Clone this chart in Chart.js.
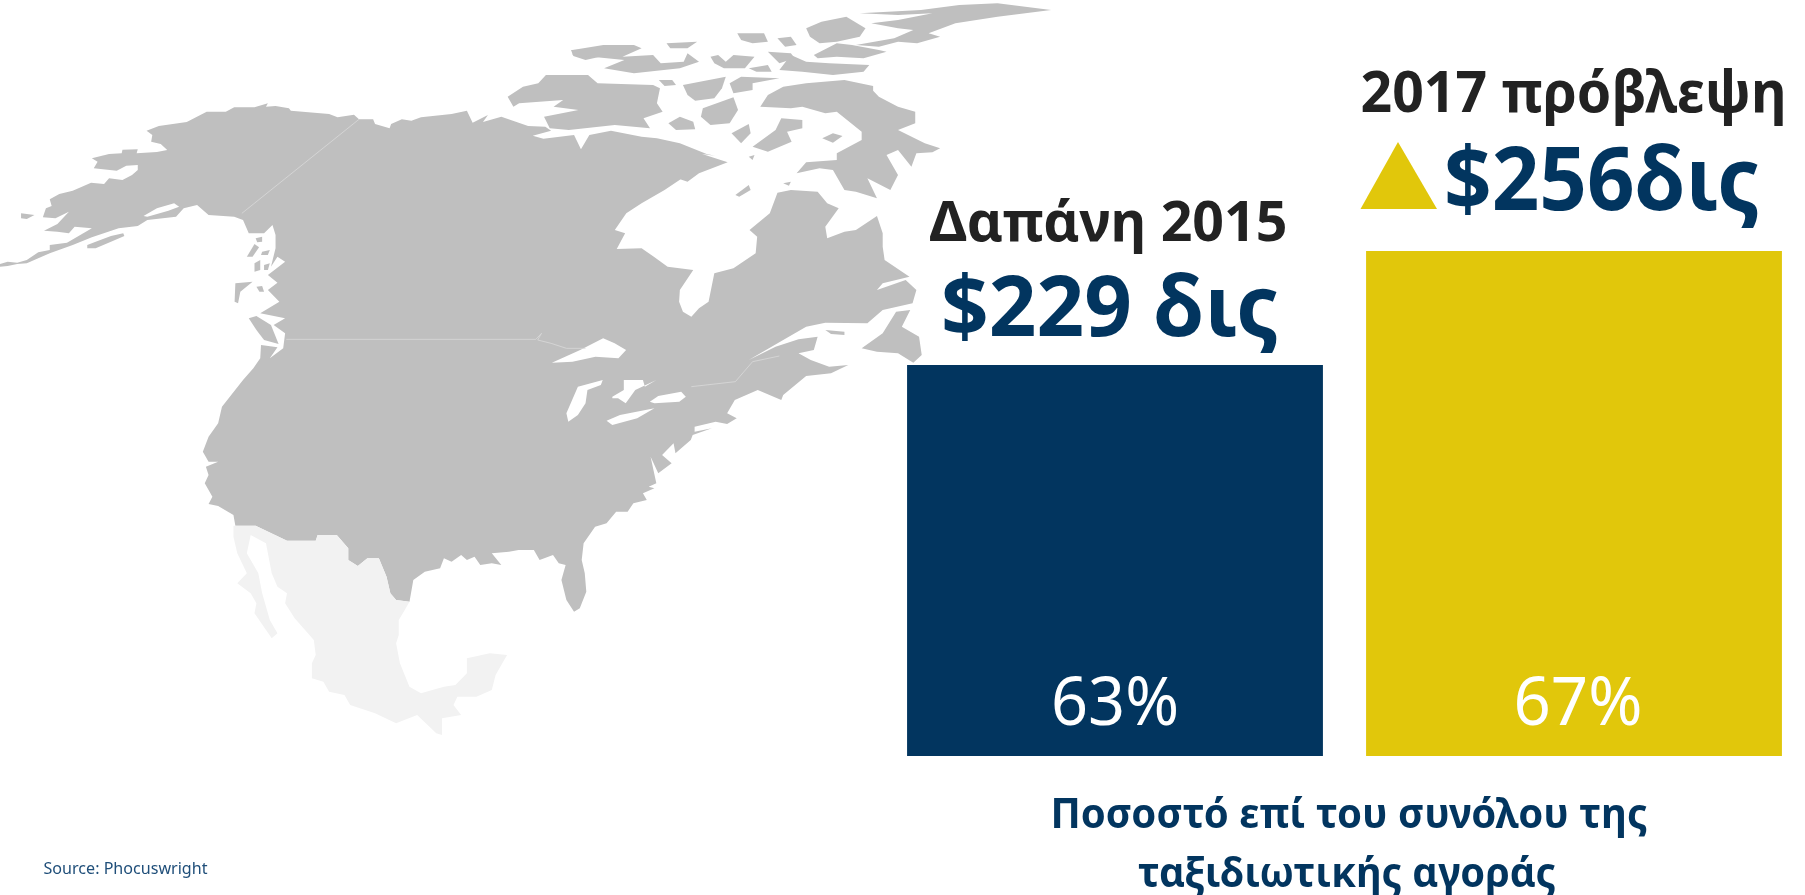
<!DOCTYPE html>
<html lang="el">
<head>
<meta charset="utf-8">
<title>Δαπάνη 2015 και 2017 πρόβλεψη</title>
<style>html,body{margin:0;padding:0;background:#fff}canvas{display:block}</style>
<script src="https://cdn.jsdelivr.net/npm/chart.js@4"></script>
</head>
<body>
<canvas id="c" width="1805" height="895"></canvas>
<script>
// ---- chart data ----
const categories = ['Δαπάνη 2015', '2017 πρόβλεψη'];
const spending = [229, 256];
const amountLabels = ['$229 δις', '$256δις'];
const shareOfMarket = [63, 67];
const shareCaption = ['Ποσοστό επί του συνόλου της', 'ταξιδιωτικής αγοράς'];
const sourceNote = 'Source: Phocuswright';

const NAVY = '#02355F', YELLOW = '#E1C70B', INK = '#222222';

// ---- decorative background map, traced in a shared space (x*2.613, y*3) ----
const OX2 = 1306.5, OX3 = 470, OY3 = 1140;
const shift = (pts, dx, dy) => pts.map(p => [p[0] + dx, p[1] + dy]);
const mainland = [].concat(
  [[0,800],[0,792],[20,785],[45,788],[70,780],[100,757],[130,750],[130,735],[175,728],[240,685],[195,680],[180,700],[150,695],[115,692],[150,672],[180,635],[145,655],[112,652],[120,625],[135,618],[130,598],[155,582],[190,572],[238,548],[272,552],[285,535],[320,540],[345,525],[360,510],[360,495],[330,497],[305,512],[245,505],[255,485],[240,475],[285,462],[318,460],[320,449],[360,448],[357,460],[410,456],[437,450],[420,432],[395,425],[398,405],[383,392],[415,378],[488,366],[540,335],[590,335],[612,322],[665,322],[700,310],[695,320],[720,318],[755,325],[760,332],[860,342],[882,352],[925,344],[938,358],[975,358],[980,372],[1018,385],[1022,372],[1050,358],[1075,362],[1100,352],[1180,342],[1220,332],[1235,368],[1275,345],[1262,366],[1310,350],[1380,378],[1425,380],[1440,392],[1392,407],[1420,416],[1500,405],[1518,448],[1540,405]],
  shift([[290,392],[370,410],[410,415],[470,430],[540,462],[562,467],[528,462],[595,487],[520,520],[490,545],[432,523],[472,538],[430,570],[370,610],[330,640],[300,690],[327,700],[305,747],[370,745],[402,770],[438,800],[505,810],[470,870],[468,905],[478,935],[500,950],[520,925],[545,905],[560,820],[610,805],[668,760],[672,710],[652,690],[705,640],[725,578],[760,570],[830,575],[855,610],[885,625],[850,680],[855,715],[900,695],[930,690],[985,648],[1000,700],[1000,740],[1005,780],[1070,830],[1000,850],[985,870],[1060,840],[1088,870],[1078,910],[1000,930],[960,970],[850,968],[800,980],[740,1020],[650,1080],[720,1040],[780,1018],[830,1010],[820,1050],[780,1060],[812,1080],[860,1100],[910,1095],[865,1120],[800,1128],[740,1185],[735,1200]], OX2, 0),
  shift([[1510,30],[1450,60],[1430,100],[1455,115],[1430,132],[1400,125],[1345,140],[1345,155],[1390,145],[1340,165],[1335,180],[1295,220],[1290,190],[1260,225],[1285,250],[1250,280],[1230,230],[1245,310],[1225,320],[1240,325],[1210,340],[1220,360],[1185,370],[1170,395],[1140,395],[1115,430],[1085,440],[1055,490],[1050,540],[1058,580],[1062,635],[1045,685],[1030,695],[1010,660],[997,600],[1008,555],[990,550],[975,525],[940,540],[925,510],[885,510],[860,515],[815,520],[840,555],[815,550],[785,555],[770,530],[750,540],[735,525],[710,545],[690,535],[680,565],[640,575],[610,600],[600,665],[565,660],[550,640],[540,590],[520,535],[490,535],[465,558],[440,540],[440,505],[410,465],[360,465],[355,482],[280,482],[198,437],[145,437],[140,405],[100,378],[75,372],[85,350],[65,310],[75,285],[68,260],[100,245],[75,245],[60,215],[75,170],[100,130],[110,80],[165,0]], OX3, OY3),
  [[662,1105],[680,1075],[682,1035],[725,1042],[705,1075],[740,1045],[745,1000],[715,975],[745,955],[680,940],[730,905],[700,870],[725,848],[700,825],[745,785],[725,770],[708,800],[720,745],[720,705],[712,675],[690,700],[650,700],[635,660],[612,650],[545,645],[515,615],[480,625],[460,650],[385,660],[360,678],[310,685],[240,712],[190,735],[130,760],[70,790],[45,792],[20,798]]
);
const lands = [
  mainland,
  [[55,640],[90,645],[70,657],[55,655]],
  [[228,735],[250,725],[290,708],[322,700],[325,708],[290,725],[250,745],[228,745]],
  [[645,770],[665,732],[677,742],[660,770]],
  [[668,715],[685,710],[685,725],[672,727]],
  [[685,755],[705,750],[700,765],[682,765]],
  [[665,790],[680,780],[680,810],[665,815]],
  [[690,795],[705,790],[700,810],[690,810]],
  [[615,850],[660,845],[628,875],[622,910],[613,905]],
  [[670,860],[685,858],[690,875],[678,875]],
  [[650,955],[670,948],[708,975],[728,1032],[690,1020],[670,990]],
  [[1492,150],[1568,148],[1568,170],[1530,180],[1498,168]]
].concat([
  [[20,290],[60,260],[100,250],[120,225],[230,225],[255,250],[400,255],[418,265],[410,310],[425,335],[375,355],[392,385],[300,375],[180,390],[130,385],[115,350],[205,330],[140,320],[165,300],[50,310],[35,320]],
  [[190,150],[270,135],[350,135],[370,145],[320,170],[400,165],[420,190],[480,185],[490,160],[520,185],[470,205],[350,220],[272,205],[325,180],[240,170],[190,165]],
  [[435,130],[515,125],[490,145],[445,145]],
  [[620,100],[690,100],[700,125],[660,130],[630,120]],
  [[725,115],[760,110],[775,135],[745,140]],
  [[550,170],[570,165],[590,185],[610,165],[665,170],[640,205],[585,205],[560,190]],
  [[800,85],[840,65],[905,50],[955,85],[940,110],[880,125],[835,130],[810,110]],
  [[940,40],[1100,30],[1200,15],[1300,10],[1440,30],[1300,50],[1190,70],[1120,100],[1150,110],[1090,130],[1040,125],[990,140],[930,135],[1030,115],[1080,90],[1040,85],[970,70],[1040,60],[1130,40],[1040,45]],
  [[820,165],[880,130],[920,135],[990,150],[1010,155],[950,175],[880,170],[830,175]],
  [[730,210],[760,165],[800,185],[860,190],[965,195],[950,215],[870,225],[790,215]],
  [[700,155],[760,160],[770,175],[730,190]],
  [[650,205],[700,195],[710,215],[670,215]],
  [[415,240],[450,240],[460,255],[430,258]],
  [[478,255],[590,230],[580,265],[560,295],[510,302],[490,285]],
  [[600,250],[630,230],[730,235],[660,250],[660,270],[610,280]],
  [[530,325],[610,292],[622,330],[600,370],[550,375],[525,350]],
  [[440,370],[470,350],[505,365],[510,388],[460,390]],
  [[680,320],[700,285],[740,260],[800,250],[900,240],[975,258],[975,272],[990,290],[1040,320],[1085,335],[1085,370],[1040,390],[1110,430],[1150,445],[1130,457],[1088,460],[1075,500],[1040,450],[1010,465],[1040,525],[1020,570],[960,535],[985,595],[930,575],[900,570],[870,510],[835,505],[775,520],[800,487],[880,480],[880,460],[945,420],[945,395],[880,335],[850,340],[790,320],[760,325]],
  [[660,440],[720,390],[735,355],[790,360],[790,385],[750,395],[762,425],[700,455]],
  [[605,400],[650,372],[655,400],[630,430]],
  [[842,415],[870,400],[895,408],[870,428]],
  [[615,585],[650,555],[655,570],[625,590]],
  [[945,1045],[1000,1000],[1035,935],[1072,930],[1050,980],[1095,1010],[1102,1065],[1080,1088],[1040,1060],[985,1055]],
  [[850,990],[900,995],[900,1005],[865,1002]],
  [[650,470],[665,465],[660,480]],
  [[740,550],[760,545],[755,557]]
].map(p => shift(p, OX2, 0)));
const waters = [
  [[375,648],[410,625],[455,610],[468,620],[440,632],[385,650]],
  [[1442,1088],[1516,1050],[1576,1015],[1606,1030],[1636,1050],[1616,1075],[1556,1070],[1496,1085]],
  [[1040,20],[1105,0],[1100,15],[1065,30],[1060,70],[1040,105],[1015,125],[1010,100],[1025,60]],
  [[1130,50],[1160,30],[1160,0],[1210,0],[1215,20],[1245,0],[1190,30],[1165,70],[1145,55],[1130,55]],
  [[1115,122],[1150,105],[1240,85],[1195,115],[1130,135]],
  [[1228,65],[1250,48],[1310,35],[1322,50],[1305,65],[1240,70]]
].map((p, i) => i < 2 ? p : shift(p, OX3, OY3));
const mexico = shift([[140,437],[198,437],[280,482],[355,482],[360,465],[410,465],[440,505],[440,540],[465,558],[490,535],[520,535],[540,590],[550,640],[565,660],[600,665],[585,695],[572,720],[572,765],[565,790],[575,850],[600,920],[630,940],[690,920],[720,915],[750,880],[750,835],[810,820],[855,825],[825,885],[815,930],[775,950],[725,950],[715,975],[735,1005],[685,1015],[685,1065],[670,1060],[620,1005],[565,1030],[510,1000],[445,975],[430,945],[390,935],[375,905],[345,895],[345,850],[355,825],[350,780],[300,715],[275,670],[280,640],[255,620],[240,580],[225,490],[185,465],[175,520],[205,580],[215,640],[235,720],[255,760],[240,775],[195,700],[200,670],[185,640],[150,610],[175,580],[150,520],[140,470]], OX3, OY3);
const borders = [
  [[938,358],[632,640]],
  [[748,1018],[1400,1018],[1415,1000],[1405,1020],[1440,1030],[1480,1045],[1530,1045]],
  shift([[500,1160],[615,1145],[660,1085],[730,1068]], OX2, 0)
];

function tracePoly(ctx, pts, close) {
  ctx.beginPath();
  pts.forEach((p, i) => {
    const x = p[0] / 2.613, y = p[1] / 3;
    if (i) ctx.lineTo(x, y); else ctx.moveTo(x, y);
  });
  if (close) ctx.closePath();
}

const mapPlugin = {
  id: 'backgroundMap',
  beforeDatasetsDraw(chart) {
    const ctx = chart.ctx;
    ctx.save();
    ctx.fillStyle = '#BFBFBF';
    lands.forEach(p => { tracePoly(ctx, p, true); ctx.fill(); });
    ctx.fillStyle = '#FFFFFF';
    waters.forEach(p => { tracePoly(ctx, p, true); ctx.fill(); });
    ctx.fillStyle = '#F2F2F2';
    tracePoly(ctx, mexico, true); ctx.fill();
    ctx.strokeStyle = '#D9D9D9';
    ctx.lineWidth = 0.8;
    borders.forEach(p => { tracePoly(ctx, p, false); ctx.stroke(); });
    ctx.restore();
  }
};

// Draws a string centred at cx on a baseline, fitted to a given width.
function fitText(ctx, text, cx, baseline, width, font, color) {
  ctx.save();
  ctx.font = font;
  ctx.fillStyle = color;
  ctx.textAlign = 'center';
  ctx.textBaseline = 'alphabetic';
  const w = ctx.measureText(text).width;
  ctx.translate(cx, baseline);
  ctx.scale(width / w, 1);
  ctx.fillText(text, 0, 0);
  ctx.restore();
}

const labelPlugin = {
  id: 'barLabels',
  afterDatasetsDraw(chart) {
    const ctx = chart.ctx;
    const bars = chart.getDatasetMeta(0).data;
    const FF = '"Noto Sans", sans-serif';
    const b0 = bars[0], b1 = bars[1];

    fitText(ctx, categories[0], b0.x - 6.5, b0.y - 124, 358, `bold 56px ${FF}`, INK);
    fitText(ctx, categories[1], b1.x - 0.5, b1.y - 139, 426, `bold 57px ${FF}`, INK);
    fitText(ctx, amountLabels[0], b0.x - 5, b0.y - 29, 338, `bold 85px ${FF}`, NAVY);
    fitText(ctx, amountLabels[1], b1.x + 28, b1.y - 41, 316, `bold 87px ${FF}`, NAVY);

    // up-triangle beside the forecast amount
    ctx.save();
    ctx.fillStyle = YELLOW;
    ctx.beginPath();
    ctx.moveTo(b1.x - 176, b1.y - 109);
    ctx.lineTo(b1.x - 137, b1.y - 42);
    ctx.lineTo(b1.x - 213.5, b1.y - 42);
    ctx.closePath();
    ctx.fill();
    ctx.restore();

    const base = chart.scales.y.bottom;
    fitText(ctx, shareOfMarket[0] + '%', b0.x, base - 31, 128, `67px ${FF}`, '#FFFFFF');
    fitText(ctx, shareOfMarket[1] + '%', b1.x + 4, base - 31, 129, `67px ${FF}`, '#FFFFFF');

    const mid = (b0.x + b1.x) / 2;
    fitText(ctx, shareCaption[0], mid + 4.5, base + 72, 597, `bold 41px ${FF}`, NAVY);
    fitText(ctx, shareCaption[1], mid + 2.5, base + 131, 418, `bold 41px ${FF}`, NAVY);

    fitText(ctx, sourceNote, 125.5, 874, 164, `16px ${FF}`, '#1F4E79');
  }
};

new Chart(document.getElementById('c'), {
  type: 'bar',
  data: {
    labels: categories,
    datasets: [{
      data: spending,
      backgroundColor: [NAVY, YELLOW],
      borderWidth: 0,
      barPercentage: 0.906,
      categoryPercentage: 1
    }]
  },
  options: {
    responsive: false,
    animation: false,
    events: [],
    layout: { padding: { left: 885.5, right: 1.5, top: 251, bottom: 139 } },
    plugins: { legend: { display: false }, tooltip: { enabled: false }, title: { display: false } },
    scales: {
      x: { display: false },
      y: { display: false, min: 136.4, max: 256 }
    }
  },
  plugins: [mapPlugin, labelPlugin]
});
</script>
</body>
</html>
